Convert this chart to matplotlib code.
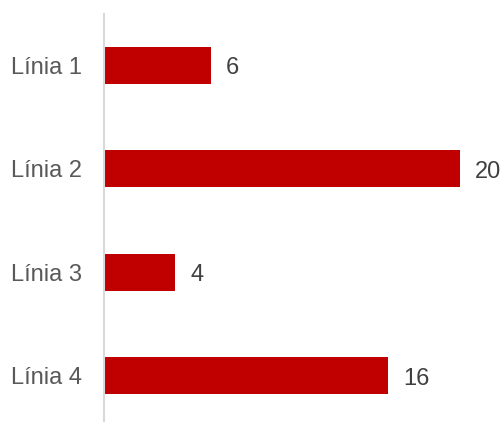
import matplotlib
matplotlib.use("Agg")
import matplotlib.pyplot as plt

categories = ["Línia 1", "Línia 2", "Línia 3", "Línia 4"]
values = [6, 20, 4, 16]

plt.rcParams['font.family'] = ['Liberation Sans', 'DejaVu Sans']

fig = plt.figure(figsize=(5.04, 4.22), dpi=100)
ax = fig.add_axes([104 / 504, -0.0128, 400 / 504, 0.9806])

ypos = list(range(len(categories)))
bars = ax.barh(ypos, values, height=0.355, color="#C00000", left=0)
ax.set_ylim(len(categories) - 0.5, -0.5)
ax.set_xlim(0, 22.5)
ax.set_yticks(ypos)
ax.set_yticklabels(categories, fontsize=17, color="#595959")
ax.tick_params(axis="y", length=0, pad=16)
ax.set_xticks([])
for s in ["top", "right", "bottom"]:
    ax.spines[s].set_visible(False)
ax.spines["left"].set_color("#D9D9D9")
ax.spines["left"].set_linewidth(1.5)

for b, v in zip(bars, values):
    ax.annotate(str(v), xy=(b.get_width(), b.get_y() + b.get_height() / 2),
                xytext=(15, -3), textcoords="offset pixels",
                ha="left", va="center", fontsize=17, color="#404040",
                annotation_clip=False)

fig.savefig("out.png", dpi=100)
